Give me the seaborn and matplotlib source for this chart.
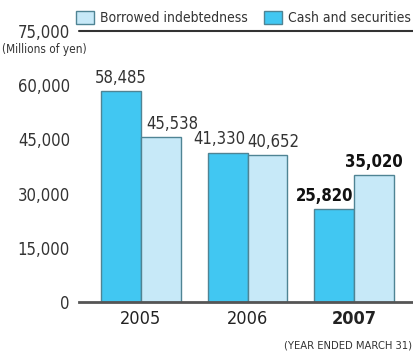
import matplotlib
matplotlib.use("Agg")
import matplotlib.pyplot as plt
from matplotlib.patches import Patch
import seaborn as sns
import pandas as pd

years = ["2005", "2006", "2007"]
cash_securities = [58485, 41330, 25820]
borrowed = [45538, 40652, 35020]
series_names = ["Cash and securities", "Borrowed indebtedness"]
y_ticks = [0, 15000, 30000, 45000, 60000, 75000]

df = pd.DataFrame({
    "year": years * 2,
    "value": cash_securities + borrowed,
    "series": [series_names[0]] * 3 + [series_names[1]] * 3,
})

sns.set_theme(style="white")
plt.rcParams["font.family"] = ["DejaVu Sans"]
plt.rcParams["font.stretch"] = "condensed"

colors = {series_names[0]: "#41C7F2", series_names[1]: "#C7E9F8"}
edge = "#4F8494"
text_color = "#333333"

fig = plt.figure(figsize=(4.14, 3.54), dpi=100)
ax = fig.add_axes([79 / 414, 1 - 302 / 354, 1 - 79 / 414, (302 - 31) / 354])

sns.barplot(data=df, x="year", y="value", hue="series", order=years,
            hue_order=series_names, palette=colors, saturation=1, width=0.75,
            edgecolor=edge, linewidth=1.0, legend=False, ax=ax)

ax.set_ylim(0, 75000)
ax.set_xlim(-0.582, 2.563)
ax.set_yticks(y_ticks)
ax.set_yticklabels([f"{v:,}" for v in y_ticks], fontsize=12, color=text_color)
ax.tick_params(axis="y", length=0, pad=6.5)
ax.tick_params(axis="x", length=0, pad=6)
ax.set_xticks(range(len(years)))
ax.set_xticklabels(years, fontsize=13, color="#222222")
ax.get_xticklabels()[-1].set_fontweight("bold")
ax.set_xlabel("")
ax.set_ylabel("")

for side in ["top", "right", "left"]:
    ax.spines[side].set_visible(False)
ax.spines["bottom"].set_color("#555555")
ax.spines["bottom"].set_linewidth(2)
ax.axhline(75000, color="#333333", lw=1.5, clip_on=False)

# value labels above each bar, nudged sideways so neighbours don't collide;
# the latest year is emphasised
label_nudge = {series_names[0]: [0, -6, -7], series_names[1]: [8, 4.5, 0]}
for container, name in zip(ax.containers, series_names):
    labels = ax.bar_label(container, fmt="{:,.0f}", padding=3,
                          fontsize=12, color=text_color)
    for lab, dx in zip(labels, label_nudge[name]):
        lab.xyann = (dx, 3)
    labels[-1].set_fontweight("bold")
    labels[-1].set_color("#111111")

handles = [Patch(facecolor=colors[series_names[1]], edgecolor=edge, lw=1),
           Patch(facecolor=colors[series_names[0]], edgecolor=edge, lw=1)]
fig.legend(handles, [series_names[1], series_names[0]], loc="center right",
           bbox_to_anchor=(1.0, 1 - 18 / 354), ncol=2, frameon=False,
           prop={"family": "DejaVu Sans", "stretch": "condensed", "size": 10},
           handlelength=1.3, handleheight=1.1,
           handletextpad=0.45, columnspacing=1.15, labelcolor=text_color,
           borderpad=0.1, borderaxespad=0.1)

fig.text(2 / 414, 1 - 50 / 354, "(Millions of yen)", fontsize=8.5,
         color=text_color, va="center", ha="left")
fig.text(412 / 414, 1 - 346 / 354, "(YEAR ENDED MARCH 31)", fontsize=8,
         color=text_color, va="center", ha="right")

fig.savefig("out.png", dpi=100)
